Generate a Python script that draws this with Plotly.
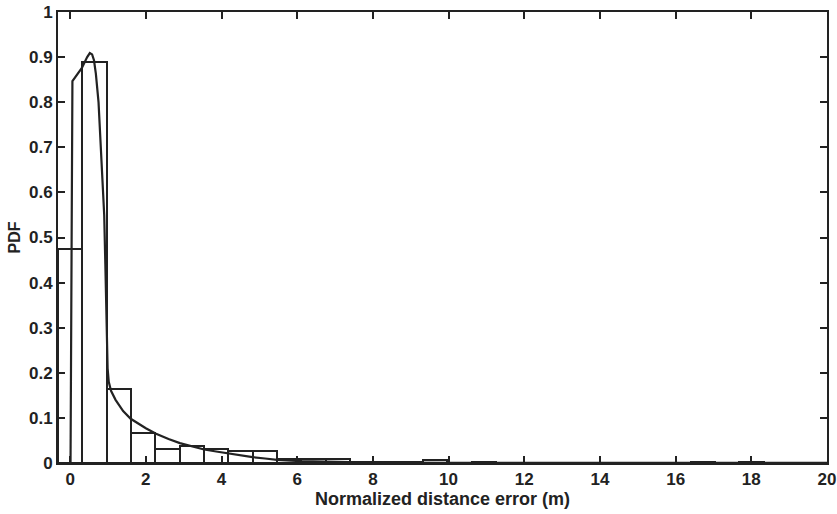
import plotly.graph_objects as go

# Histogram of normalized distance error (bin width ~0.643 m, first bin centred on 0)
bin_width = 0.643
bin_centers = [round(i * bin_width, 3) for i in range(30)]
pdf_heights = [
    0.475, 0.890, 0.163, 0.066, 0.032, 0.037, 0.030, 0.026, 0.026, 0.008,
    0.009, 0.009, 0.003, 0.002, 0.002, 0.006, 0.001, 0.003, 0.000, 0.000,
    0.000, 0.000, 0.000, 0.000, 0.000, 0.000, 0.003, 0.000, 0.003, 0.000,
]

# Fitted density curve
fit_x = [0.01, 0.06, 0.31, 0.37, 0.45, 0.52, 0.58, 0.63, 0.68, 0.75, 0.81, 0.87,
         0.90, 0.93, 0.96, 0.99, 1.02, 1.08, 1.20, 1.40, 1.60, 1.80, 2.00, 2.27,
         2.60, 2.90, 3.20, 3.54, 3.90, 4.18, 4.50, 4.82, 5.15, 5.47, 6.10, 7.00,
         8.00, 10.0, 14.0, 20.0]
fit_y = [0.000, 0.847, 0.876, 0.887, 0.900, 0.909, 0.906, 0.893, 0.863, 0.800, 0.700, 0.590,
         0.550, 0.440, 0.320, 0.210, 0.180, 0.160, 0.140, 0.115, 0.098, 0.087, 0.077, 0.065,
         0.053, 0.044, 0.037, 0.030, 0.025, 0.021, 0.017, 0.013, 0.010, 0.007, 0.004, 0.002,
         0.001, 0.0005, 0.0002, 0.0001]

x_ticks = [0, 2, 4, 6, 8, 10, 12, 14, 16, 18, 20]
y_ticks = [0, 0.1, 0.2, 0.3, 0.4, 0.5, 0.6, 0.7, 0.8, 0.9, 1]
y_tick_text = ["0", "0.1", "0.2", "0.3", "0.4", "0.5", "0.6", "0.7", "0.8", "0.9", "1"]

ink = "#222222"
font_family = "Liberation Sans, Arial, sans-serif"

fig = go.Figure()
fig.add_trace(go.Bar(
    x=bin_centers, y=pdf_heights, width=bin_width,
    marker=dict(color="white", line=dict(color=ink, width=2)),
    showlegend=False,
))
fig.add_trace(go.Scatter(
    x=fit_x, y=fit_y, mode="lines",
    line=dict(color=ink, width=2.2),
    showlegend=False,
))

axis_common = dict(
    showline=True, linecolor=ink, linewidth=2, mirror="ticks",
    ticks="inside", ticklen=7, tickwidth=1.5, tickcolor=ink,
    showgrid=False, zeroline=False, automargin=False,
    tickfont=dict(family=font_family, size=17, color=ink, weight="bold"),
)

fig.update_layout(
    width=837, height=514,
    margin=dict(l=58, r=10, t=12, b=51),
    paper_bgcolor="white", plot_bgcolor="white",
    bargap=0,
    xaxis=dict(
        range=[-0.321, 20], tickvals=x_ticks,
        title=dict(text="Normalized distance error (m)", standoff=0,
                   font=dict(family=font_family, size=18, color=ink, weight="bold")),
        **axis_common,
    ),
    yaxis=dict(
        range=[0, 1], tickvals=y_ticks, ticktext=y_tick_text,
        title=dict(text="PDF", standoff=4,
                   font=dict(family=font_family, size=16, color=ink, weight="bold")),
        **axis_common,
    ),
)

fig.write_html("out.html")
